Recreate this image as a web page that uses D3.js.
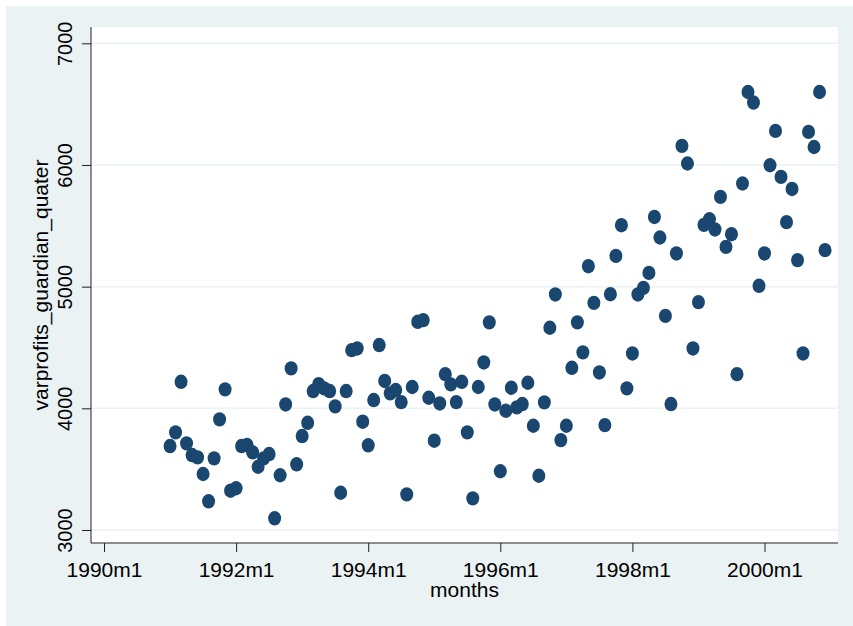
<!DOCTYPE html>
<html>
<head>
<meta charset="utf-8">
<title>varprofits_guardian_quater by months</title>
<script src="https://cdn.jsdelivr.net/npm/d3@7/dist/d3.min.js"></script>
<style>
body {
	margin: 0;
	background: #ffffff;
}

text {
	font-family: "Liberation Sans", Arial, Helvetica, sans-serif;
	fill: #000000;
}

.grid line {
	stroke: #eaf2f3;
	stroke-width: 1.5px;
}

.axis line,
.axis-line {
	stroke: #222222;
	stroke-width: 1px;
}
</style>
</head>
<body>
<script>

var width = 853,
    height = 626;

// Stata monthly dates, counted from 1990m1
var startYear = 1990;
var years = [1991, 1992, 1993, 1994, 1995, 1996, 1997, 1998, 1999, 2000];

// one row per year, Jan..Dec
var profits1991 = [3690, 3802, 4218, 3712, 3616, 3597, 3460, 3236, 3589, 3909, 4156, 3323];
var profits1992 = [3343, 3690, 3698, 3638, 3520, 3589, 3624, 3096, 3450, 4032, 4328, 3540];
var profits1993 = [3772, 3881, 4142, 4199, 4164, 4142, 4016, 3306, 4142, 4478, 4492, 3890];
var profits1994 = [3696, 4068, 4520, 4225, 4123, 4150, 4051, 3293, 4175, 4711, 4725, 4087];
var profits1995 = [3734, 4040, 4281, 4197, 4051, 4218, 3802, 3260, 4175, 4377, 4706, 4032];
var profits1996 = [3483, 3980, 4169, 4008, 4035, 4210, 3857, 3446, 4049, 4662, 4936, 3739];
var profits1997 = [3857, 4333, 4706, 4460, 5168, 4867, 4295, 3862, 4938, 5253, 5505, 4164];
var profits1998 = [4451, 4936, 4990, 5113, 5573, 5404, 4760, 4035, 5273, 6157, 6012, 4492];
var profits1999 = [4873, 5508, 5554, 5470, 5738, 5327, 5431, 4281, 5848, 6600, 6513, 5007];
var profits2000 = [5273, 5998, 6280, 5902, 5530, 5803, 5218, 4451, 6272, 6148, 6600, 5300];

var profitsByYear = [profits1991, profits1992, profits1993, profits1994, profits1995,
                     profits1996, profits1997, profits1998, profits1999, profits2000];

var xTickMonths = [0, 24, 48, 72, 96, 120];
var xTickLabels = ["1990m1", "1992m1", "1994m1", "1996m1", "1998m1", "2000m1"];
var yTicks = [3000, 4000, 5000, 6000, 7000];

// flatten to {month index, value}
var data = [];
years.forEach(function(yr, i) {
    profitsByYear[i].forEach(function(v, k) {
        data.push({ m: (yr - startYear) * 12 + k, value: v });
    });
});

// plot region
var plotLeft = 91,
    plotRight = 838,
    plotTop = 27,
    plotBottom = 543;

var x = d3.scaleLinear()
    .domain([0, 120])
    .range([104, 764.5]);

var y = d3.scaleLinear()
    .domain([3000, 7000])
    .range([530, 43.3]);

var svg = d3.select("body").append("svg")
    .attr("width", width)
    .attr("height", height);

// graph region background
svg.append("rect")
    .attr("x", 6)
    .attr("y", 6)
    .attr("width", width - 6)
    .attr("height", height - 6)
    .attr("fill", "#eaf2f3");

svg.append("rect")
    .attr("x", plotLeft)
    .attr("y", plotTop)
    .attr("width", plotRight - plotLeft)
    .attr("height", plotBottom - plotTop)
    .attr("fill", "#ffffff");

// horizontal grid lines
svg.append("g")
    .attr("class", "grid")
  .selectAll("line")
    .data(yTicks)
  .enter().append("line")
    .attr("x1", plotLeft)
    .attr("x2", plotRight)
    .attr("y1", function(d) { return y(d); })
    .attr("y2", function(d) { return y(d); });

// points
svg.append("g")
  .selectAll("ellipse")
    .data(data)
  .enter().append("ellipse")
    .attr("cx", function(d) { return x(d.m); })
    .attr("cy", function(d) { return y(d.value); })
    .attr("rx", 6.5)
    .attr("ry", 7.2)
    .attr("fill", "#1a476f");

// y axis
var yAxis = svg.append("g")
    .attr("class", "axis")
    .attr("transform", "translate(" + plotLeft + ",0)")
    .call(d3.axisLeft(y).tickValues(yTicks).tickSize(9).tickSizeOuter(0).tickFormat(d3.format("d")));

yAxis.select(".domain").remove();
yAxis.selectAll("text")
    .attr("transform", "rotate(-90)")
    .attr("x", 0)
    .attr("y", -19)
    .attr("dy", 0)
    .attr("text-anchor", "middle")
    .style("font-size", "20px")
    .style("font-family", null);

// x axis
var xAxis = svg.append("g")
    .attr("class", "axis")
    .attr("transform", "translate(0," + plotBottom + ")")
    .call(d3.axisBottom(x).tickValues(xTickMonths).tickSize(9).tickSizeOuter(0)
        .tickFormat(function(d, i) { return xTickLabels[i]; }));

xAxis.select(".domain").remove();
xAxis.selectAll("text")
    .attr("y", 33.5)
    .attr("dy", 0)
    .style("font-size", "21px")
    .style("font-family", null);

// axis lines
svg.append("line")
    .attr("class", "axis-line")
    .attr("x1", plotLeft).attr("x2", plotLeft)
    .attr("y1", plotTop).attr("y2", plotBottom);

svg.append("line")
    .attr("class", "axis-line")
    .attr("x1", plotLeft).attr("x2", plotRight)
    .attr("y1", plotBottom).attr("y2", plotBottom);

// titles
svg.append("text")
    .attr("x", (plotLeft + plotRight) / 2)
    .attr("y", 596.5)
    .attr("text-anchor", "middle")
    .style("font-size", "21px")
    .text("months");

svg.append("text")
    .attr("transform", "translate(48," + ((plotTop + plotBottom) / 2) + ")rotate(-90)")
    .attr("text-anchor", "middle")
    .style("font-size", "21px")
    .text("varprofits_guardian_quater");

</script>
</body>
</html>
